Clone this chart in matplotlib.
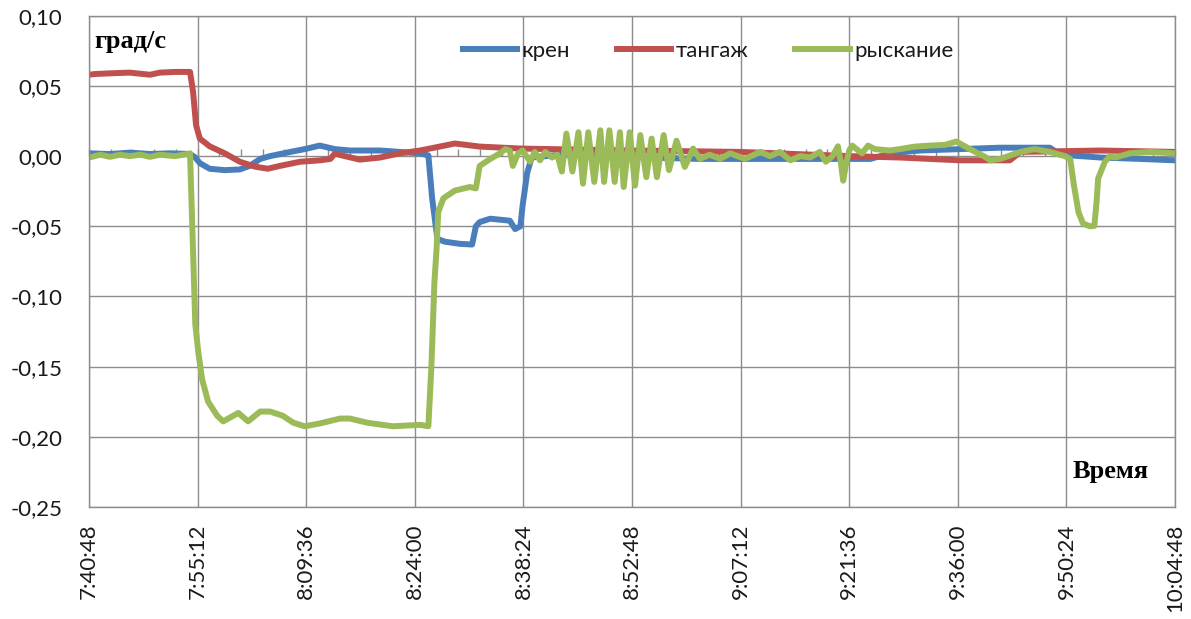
import matplotlib
matplotlib.use('Agg')
import matplotlib.pyplot as plt
from matplotlib.ticker import FuncFormatter, MultipleLocator
import numpy as np

# time axis: minutes after 7:40:48
START = 7 * 3600 + 40 * 60 + 48

# крен (roll)
kren_t = [0.0, 2.8, 5.4, 8.1, 10.7, 13.4, 14.1, 14.7, 16.0, 18.0, 20.0, 21.3, 22.7, 24.0,
          26.7, 28.6, 30.6, 32.6, 34.6, 38.6, 41.2, 43.9, 45.0, 45.5, 46.2, 47.2, 49.2,
          50.8, 51.3, 51.8, 53.2, 55.8, 56.5, 57.2, 57.5, 58.1, 58.7, 62.5, 67.8, 74.4,
          81.0, 94.3, 103.6, 106.2, 110.2, 115.5, 120.8, 127.4, 128.8, 134.1, 139.4, 144.0]
kren_v = [0.002, 0.0015, 0.0025, 0.0015, 0.002, 0.0015, -0.001, -0.005, -0.009, -0.010,
          -0.0095, -0.007, -0.002, 0.0, 0.003, 0.005, 0.0075, 0.005, 0.004, 0.004, 0.003,
          0.002, 0.0005, -0.030, -0.059, -0.061, -0.0625, -0.063, -0.050, -0.047, -0.0446,
          -0.046, -0.052, -0.050, -0.035, -0.012, -0.001, 0.001, 0.0, -0.001, -0.002,
          -0.002, -0.002, 0.002, 0.004, 0.005, 0.006, 0.006, 0.001, -0.001, -0.002, -0.003]

# тангаж (pitch)
tang_t = [0.0, 0.8, 2.8, 5.4, 8.1, 9.4, 11.4, 13.4, 13.8, 14.2, 14.7, 16.0, 18.0, 20.0,
          22.0, 23.7, 25.3, 28.0, 30.6, 32.0, 32.6, 33.9, 35.9, 38.6, 41.2, 43.9, 46.5,
          48.5, 51.8, 57.2, 71.7, 86.3, 100.9, 107.5, 115.5, 122.1, 122.8, 123.5, 134.1, 144.0]
tang_v = [0.058, 0.0585, 0.059, 0.0595, 0.058, 0.0595, 0.060, 0.060, 0.046, 0.022, 0.0125,
          0.007, 0.002, -0.004, -0.0075, -0.009, -0.007, -0.004, -0.003, -0.002, 0.0018,
          0.0, -0.0025, -0.001, 0.002, 0.004, 0.0068, 0.009, 0.0068, 0.0054, 0.004, 0.003,
          0.0, -0.001, -0.003, -0.003, 0.0, 0.003, 0.004, 0.003]

# рыскание (yaw)
rysk_t = [0.0, 1.5, 2.8, 4.1, 5.4, 6.8, 8.1, 9.4, 11.4, 13.1, 13.4, 13.7, 14.1, 14.5, 15.0,
          15.8, 17.0, 17.8, 19.8, 21.1, 22.7, 24.0, 25.7, 27.1, 28.6, 30.6, 33.3, 34.6,
          36.9, 40.3, 42.2, 43.9, 45.0, 45.4, 45.8, 46.1, 46.3, 47.0, 48.5, 50.5, 51.3,
          51.8, 53.2, 54.5, 55.2, 55.8, 56.2, 56.9, 57.5, 58.5, 59.1, 59.8, 60.5, 61.4,
          62.1, 62.7, 63.3, 64.1, 64.9, 65.5, 66.2, 67.0, 67.8, 68.3, 69.0, 69.7, 70.4,
          70.9, 71.7, 72.4, 73.1, 73.9, 74.6, 75.3, 76.2, 76.9, 77.9, 79.0, 80.1, 81.0,
          82.3, 83.7, 85.0, 87.0, 89.0, 90.3, 91.6, 93.0, 94.3, 95.6, 96.9, 97.7, 98.6,
          99.3, 99.7, 100.0, 100.4, 100.8, 101.2, 102.0, 102.5, 103.3, 104.2, 106.2, 107.5,
          109.5, 111.5, 113.5, 115.0, 116.8, 118.8, 119.5, 120.8, 123.5, 125.4, 127.4,
          129.4, 130.1, 130.6, 131.2, 131.8, 132.7, 133.3, 133.6, 133.8, 134.7, 135.4,
          136.1, 138.0, 140.7, 144.0]
rysk_v = [-0.001, 0.001, -0.0005, 0.001, 0.0, 0.001, -0.0005, 0.001, 0.0, 0.0015, 0.002,
          -0.05, -0.120, -0.140, -0.159, -0.175, -0.185, -0.189, -0.183, -0.189, -0.182,
          -0.182, -0.185, -0.190, -0.1925, -0.1905, -0.187, -0.187, -0.190, -0.1925,
          -0.192, -0.1915, -0.1925, -0.150, -0.090, -0.065, -0.040, -0.030, -0.0246,
          -0.022, -0.023, -0.007, -0.002, 0.002, 0.005, 0.004, -0.007, 0.002, 0.004,
          -0.004, 0.003, -0.003, 0.003, -0.001, 0.001, -0.011, 0.016, -0.011, 0.017,
          -0.0196, 0.017, -0.0184, 0.0184, -0.0184, 0.0184, -0.0184, 0.017, -0.022, 0.017,
          -0.021, 0.015, -0.015, 0.0125, -0.015, 0.015, -0.010, 0.011, -0.0077, 0.0054,
          -0.002, 0.001, -0.002, 0.002, -0.002, 0.003, 0.0, 0.003, -0.003, 0.0, -0.001,
          0.003, -0.004, 0.0, 0.007, -0.005, -0.0175, -0.005, 0.004, 0.0075, 0.004, 0.002,
          0.0075, 0.005, 0.004, 0.005, 0.0068, 0.0075, 0.008, 0.0104, 0.005, -0.0005,
          -0.003, -0.002, 0.003, 0.005, 0.003, 0.0, -0.002, -0.021, -0.040, -0.048,
          -0.050, -0.0497, -0.0325, -0.016, -0.004, 0.0, -0.001, 0.002, 0.003, 0.002]

BLUE = '#4a7ebb'
RED = '#c0504d'
GREEN = '#9bbb59'
GRID = '#8c8c8c'
TICKFONT = ['Lato', 'Open Sans', 'DejaVu Sans']
LW = 4.3


def clock(m, pos=None):
    s = int(round(START + m * 60))
    return '%d:%02d:%02d' % (s // 3600, (s % 3600) // 60, s % 60)


fig = plt.figure(figsize=(11.91, 6.19), dpi=100)
ax = fig.add_axes([0.0747, 0.181, 0.9119, 0.7935])

ax.plot(kren_t, kren_v, color=BLUE, lw=LW, label='крен', solid_joinstyle='round')
ax.plot(tang_t, tang_v, color=RED, lw=LW, label='тангаж', solid_joinstyle='round')
ax.plot(rysk_t, rysk_v, color=GREEN, lw=LW, label='рыскание', solid_joinstyle='round')

ax.set_xlim(0, 144)
ax.set_ylim(-0.25, 0.10)
ax.xaxis.set_major_locator(MultipleLocator(14.4))
ax.yaxis.set_major_locator(MultipleLocator(0.05))
ax.xaxis.set_major_formatter(FuncFormatter(clock))
ax.yaxis.set_major_formatter(FuncFormatter(lambda v, p: ('%.2f' % v).replace('.', ',')))

ax.set_axisbelow(True)
ax.grid(True, color=GRID, lw=1.0)
for sp in ax.spines.values():
    sp.set_color(GRID)
    sp.set_linewidth(1.0)

ax.tick_params(axis='both', length=0, labelcolor='#1a1a1a')
ax.tick_params(axis='x', pad=12, labelrotation=90)
ax.tick_params(axis='y', pad=19)
for lab in ax.get_xticklabels() + ax.get_yticklabels():
    lab.set_family(TICKFONT)
    lab.set_fontsize(16)
for lab in ax.get_xticklabels():
    lab.set_va('top')
    lab.set_ha('center')

# small tick marks along the zero line
sec = ax.secondary_xaxis(0.25 / 0.35)
sec.set_xticks(np.arange(0, 144.01, 2.88))
sec.tick_params(axis='x', direction='out', length=5, color=GRID, width=1, labelbottom=False,
                labeltop=False)
for sp in sec.spines.values():
    sp.set_visible(False)
sec.set_zorder(1)

leg = ax.legend(loc='center', bbox_to_anchor=(0.570, 0.928), ncol=3, frameon=False,
                handlelength=2.45, handletextpad=0.2, columnspacing=2.1,
                prop={'family': ['Lato', 'Open Sans'], 'size': 16})
for t in leg.get_texts():
    t.set_color('#1a1a1a')

ax.text(0.0046, 0.935, 'град/с', transform=ax.transAxes, fontsize=19, fontweight='bold',
        family='Liberation Serif', va='baseline', ha='left')
ax.text(0.906, 0.059, 'Время', transform=ax.transAxes, fontsize=19, fontweight='bold',
        family='Liberation Serif', va='baseline', ha='left')

fig.savefig('out.png', dpi=100)
